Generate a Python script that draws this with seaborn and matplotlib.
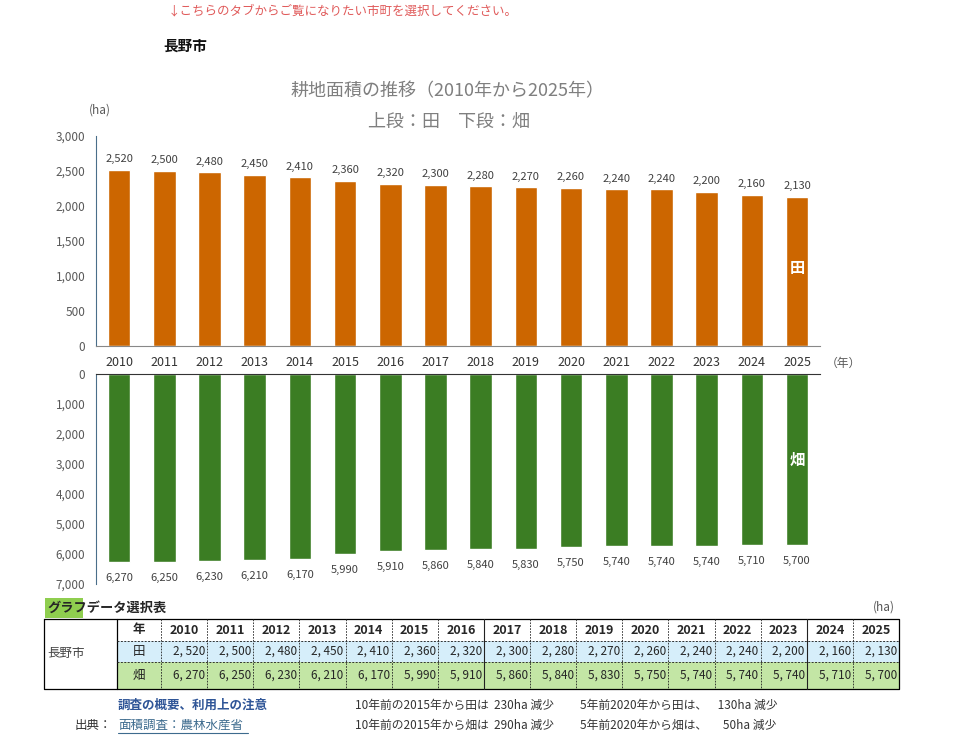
import matplotlib
matplotlib.use("Agg")
import matplotlib.pyplot as plt
import seaborn as sns
import pandas as pd

# data
years = [2010, 2011, 2012, 2013, 2014, 2015, 2016, 2017, 2018, 2019, 2020, 2021, 2022, 2023, 2024, 2025]
ta = [2520, 2500, 2480, 2450, 2410, 2360, 2320, 2300, 2280, 2270, 2260, 2240, 2240, 2200, 2160, 2130]      # 田
hata = [6270, 6250, 6230, 6210, 6170, 5990, 5910, 5860, 5840, 5830, 5750, 5740, 5740, 5740, 5710, 5700]  # 畑
city = "長野市"
ta_ticks = [0, 500, 1000, 1500, 2000, 2500, 3000]
hata_ticks = [0, 1000, 2000, 3000, 4000, 5000, 6000, 7000]

sns.set_style("white")
plt.rcParams['font.family'] = ['Noto Sans CJK JP', 'DejaVu Sans']

ORANGE = "#cc6600"
GREEN = "#3b7d23"
TICK = "#595959"

df = pd.DataFrame({"year": [str(y) for y in years], "ta": ta, "hata": hata})

W, H = 960, 738
fig = plt.figure(figsize=(9.6, 7.38), dpi=100)

def px_axes(x0, y0, x1, y1):
    return fig.add_axes([x0 / W, 1 - y1 / H, (x1 - x0) / W, (y1 - y0) / H])

# background axes in pixel coords for texts / table
bg = fig.add_axes([0, 0, 1, 1])
bg.set_xlim(0, W)
bg.set_ylim(H, 0)
bg.axis("off")

# ---- upper chart (田)
ax1 = px_axes(96.4, 136, 819.6, 346)
sns.barplot(data=df, x="year", y="ta", color=ORANGE, saturation=1, width=0.5, ax=ax1)
ax1.set_ylim(0, 3000)
ax1.set_xlim(-0.5, len(years) - 0.5)
ax1.set_yticks(ta_ticks)
ax1.set_yticklabels([f"{v:,}" for v in ta_ticks], color=TICK, fontsize=8.5)
ax1.tick_params(axis="y", length=0, pad=8)
ax1.tick_params(axis="x", length=0, pad=7, labelsize=9, labelcolor="#333333")
ax1.set_xlabel("")
ax1.set_ylabel("")
for s in ["top", "right"]:
    ax1.spines[s].set_visible(False)
ax1.spines["left"].set_color("#4a6e8a")
ax1.spines["bottom"].set_color("#888888")
ax1.patch.set_alpha(0)
ax1.bar_label(ax1.containers[0], labels=[f"{v:,}" for v in ta], padding=4, fontsize=8, color="#404040")
ax1.text(len(years) - 1, ta[-1] * 0.52, "田", color="white", fontsize=11, fontweight="bold",
         ha="center", va="center")

# ---- lower chart (畑)
ax2 = px_axes(96.4, 374, 819.6, 584)
sns.barplot(data=df, x="year", y="hata", color=GREEN, saturation=1, width=0.5, ax=ax2)
ax2.set_ylim(7000, 0)
ax2.set_xlim(-0.5, len(years) - 0.5)
ax2.set_yticks(hata_ticks)
ax2.set_yticklabels([f"{v:,}" for v in hata_ticks], color=TICK, fontsize=8.5)
ax2.tick_params(axis="y", length=0, pad=8)
ax2.set_xticks([])
ax2.set_xlabel("")
ax2.set_ylabel("")
for s in ["bottom", "right"]:
    ax2.spines[s].set_visible(False)
ax2.spines["left"].set_color("#4a6e8a")
ax2.spines["top"].set_color("#333333")
ax2.patch.set_alpha(0)
ax2.bar_label(ax2.containers[0], labels=[f"{v:,}" for v in hata], padding=8, fontsize=8, color="#404040")
ax2.text(len(years) - 1, hata[-1] * 0.5, "畑", color="white", fontsize=11, fontweight="bold",
         ha="center", va="center")

# ---- header texts
bg.text(168, 11, "↓こちらのタブからご覧になりたい市町を選択してください。", color="#e05a5a",
        fontsize=9, va="center", ha="left")
bg.text(163, 46, city, fontsize=10.5, fontweight="bold", va="center", ha="left", color="#111111")
bg.text(448, 91, f"耕地面積の推移（{years[0]}年から{years[-1]}年）", fontsize=13, color="#7f7f7f",
        ha="center", va="center")
bg.text(449, 122, "上段：田　下段：畑", fontsize=13, color="#7f7f7f", ha="center", va="center")
bg.text(100, 110, "(ha)", fontsize=8.5, color=TICK, ha="center", va="center")
bg.text(843, 363, "（年）", fontsize=8.5, color=TICK, ha="center", va="center")

# ---- data table
x_city0, x_city1, x_year1, x_end = 44, 117, 161, 899
col_w = (x_end - x_year1) / len(years)
r0, r1, r2, r3 = 619, 641, 662, 689

bg.add_patch(plt.Rectangle((45, 598), 38, 20, color="#8fce4f", lw=0))
bg.text(47, 608, "グラフデータ選択表", fontsize=9.5, fontweight="bold", va="center", ha="left")
bg.text(884, 607, "(ha)", fontsize=8.5, color="#555555", ha="center", va="center")

bg.add_patch(plt.Rectangle((x_city1, r1), x_end - x_city1, r2 - r1, color="#d6eefa", lw=0))
bg.add_patch(plt.Rectangle((x_city1, r2), x_end - x_city1, r3 - r2, color="#c3e6a5", lw=0))

# borders
bg.plot([x_city0, x_end, x_end, x_city0, x_city0], [r0, r0, r3, r3, r0], color="black", lw=0.9)
bg.plot([x_city1, x_city1], [r0, r3], color="black", lw=0.9)
for r in (r1, r2):
    bg.plot([x_city1, x_end], [r, r], color="#333333", lw=0.7, ls=(0, (2, 1.5)))
for i in range(len(years)):
    xb = x_year1 + i * col_w
    solid = years[i] in (2017, 2024)
    bg.plot([xb, xb], [r0, r3], color="#222222", lw=0.8 if solid else 0.6,
            ls="-" if solid else (0, (2, 1.5)))

bg.text(47, (r0 + r3) / 2, city, fontsize=9, color="#444444", va="center", ha="left")
bg.text((x_city1 + x_year1) / 2, (r0 + r1) / 2, "年", fontsize=9, fontweight="bold", ha="center", va="center")
bg.text((x_city1 + x_year1) / 2, (r1 + r2) / 2, "田", fontsize=9, ha="center", va="center")
bg.text((x_city1 + x_year1) / 2, (r2 + r3) / 2, "畑", fontsize=9, ha="center", va="center")
for i, y in enumerate(years):
    xc = x_year1 + (i + 0.5) * col_w
    xr = x_year1 + (i + 1) * col_w - 2
    bg.text(xc, (r0 + r1) / 2, str(y), fontsize=9, fontweight="bold", ha="center", va="center")
    bg.text(xr, (r1 + r2) / 2, f"{ta[i]:,}".replace(",", ", "), fontsize=8.5, ha="right", va="center")
    bg.text(xr, (r2 + r3) / 2, f"{hata[i]:,}".replace(",", ", "), fontsize=8.5, ha="right", va="center")

# ---- footer
i15, i20 = years.index(2015), years.index(2020)
bg.text(118, 705, "調査の概要、利用上の注意", fontsize=9, fontweight="bold", color="#2f5597", va="center")
bg.text(75, 725, "出典：", fontsize=9, color="#333333", va="center")
bg.text(118, 725, "面積調査：農林水産省", fontsize=9, color="#3d6b8e", va="center")
bg.plot([118, 248], [733, 733], color="#3d6b8e", lw=0.8)
bg.text(355, 705, f"10年前の2015年から田は  {ta[i15] - ta[-1]}ha 減少", fontsize=8.5, color="#333333", va="center")
bg.text(355, 725, f"10年前の2015年から畑は  {hata[i15] - hata[-1]}ha 減少", fontsize=8.5, color="#333333", va="center")
bg.text(580, 705, f"5年前2020年から田は、    {ta[i20] - ta[-1]}ha 減少", fontsize=8.5, color="#333333", va="center")
bg.text(580, 725, f"5年前2020年から畑は、      {hata[i20] - hata[-1]}ha 減少", fontsize=8.5, color="#333333", va="center")

fig.savefig("out.png", dpi=100)
